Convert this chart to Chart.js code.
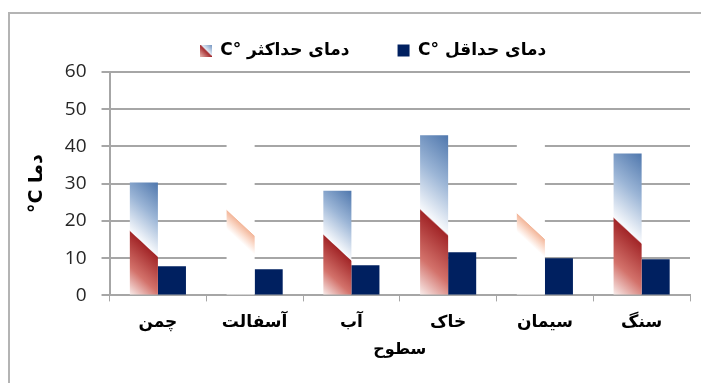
<!DOCTYPE html>
<html lang="fa">
<head>
<meta charset="utf-8">
<title>دمای سطوح</title>
<script src="https://cdn.jsdelivr.net/npm/chart.js@4.4.0/dist/chart.umd.min.js"></script>
<style>
  html, body { margin: 0; padding: 0; background: #fff; }
  #marco { position: absolute; left: 8px; top: 12px; width: 700px; height: 380px;
           border-left: 2px solid #b4b4b4; border-top: 2px solid #b4b4b4; }
  #contenedor { position: absolute; left: 0; top: 0; width: 701px; height: 383px; }
</style>
</head>
<body>
<div id="marco"></div>
<div id="contenedor"><canvas id="grafico" width="701" height="383"></canvas></div>
<script>
var superficies = ['چمن', 'آسفالت', 'آب', 'خاک', 'سیمان', 'سنگ'];
var tempMax = [30.3, 43, 28.1, 43, 41, 38.1];
var tempMin = [7.8, 7.0, 8.1, 11.6, 10.0, 9.7];
var ticksY = [0, 10, 20, 30, 40, 50, 60];

// bars of the max series that are printed almost white
var maxPalido = [false, true, false, false, true, false];

var catPct = 0.58;
var fuenteFa = "'DejaVu Sans', sans-serif";

// diagonal two-tone fill for the max bars (blue on top, red below)
function rellenoMax(ctx) {
  var chart = ctx.chart;
  if (ctx.type !== 'data' || !chart.chartArea) return '#6f92c0';
  var sx = chart.scales.x, sy = chart.scales.y;
  var ancho = sx.width / superficies.length * catPct / 2;
  var xc = sx.getPixelForValue(ctx.dataIndex) - ancho / 2;
  var arriba = sy.getPixelForValue(ctx.raw);
  var base = sy.getPixelForValue(0);
  var yBorde = base - (base - arriba) * 0.45;
  var nx = -0.68, ny = 0.733;
  var esquinas = [[xc - ancho / 2, arriba], [xc + ancho / 2, arriba], [xc - ancho / 2, base], [xc + ancho / 2, base]];
  var pMin = Infinity, pMax = -Infinity;
  esquinas.forEach(function (c) {
    var p = (c[0] - xc) * nx + (c[1] - yBorde) * ny;
    pMin = Math.min(pMin, p);
    pMax = Math.max(pMax, p);
  });
  var g = chart.ctx.createLinearGradient(xc + nx * pMin, yBorde + ny * pMin, xc + nx * pMax, yBorde + ny * pMax);
  var f = -pMin / (pMax - pMin);
  if (maxPalido[ctx.dataIndex]) {
    g.addColorStop(0, '#ffffff');
    g.addColorStop(f - 0.005, '#ffffff');
    g.addColorStop(f, '#f3b79b');
    g.addColorStop(f + 0.05, '#fbdccd');
    g.addColorStop(f + 0.1, '#ffffff');
    g.addColorStop(1, '#ffffff');
  } else {
    g.addColorStop(0, '#4f77ad');
    g.addColorStop(f * 0.5, '#9bb5d6');
    g.addColorStop(f - 0.01, '#f7f9fc');
    g.addColorStop(f, '#a22628');
    g.addColorStop(f + (1 - f) * 0.55, '#d3726b');
    g.addColorStop(1, '#faf0ee');
  }
  return g;
}

// small legend icon with the same diagonal fill
var icono = document.createElement('canvas');
icono.width = 12;
icono.height = 12;
var ic = icono.getContext('2d');
var gi = ic.createLinearGradient(12, 0, 0, 12);
gi.addColorStop(0, '#6f92c0');
gi.addColorStop(0.49, '#eef3f9');
gi.addColorStop(0.5, '#a3272a');
gi.addColorStop(1, '#e9b9b3');
ic.fillStyle = gi;
ic.fillRect(0, 0, 12, 12);

var moverLeyenda = {
  id: 'moverLeyenda',
  afterLayout: function (chart) {
    chart.legend.left += 18;
    chart.legend.right += 18;
    chart.legend.top -= 3;
    chart.legend.bottom -= 3;
  }
};

new Chart('grafico', {
  type: 'bar',
  data: {
    labels: superficies,
    datasets: [{
      label: 'C° دمای حداکثر',
      data: tempMax,
      backgroundColor: rellenoMax,
      borderWidth: 0
    }, {
      label: 'C° دمای حداقل',
      data: tempMin,
      backgroundColor: '#002060',
      borderWidth: 0
    }]
  },
  options: {
    responsive: false,
    animation: false,
    datasets: { bar: { categoryPercentage: catPct, barPercentage: 1 } },
    layout: { padding: { left: 20, right: 11, top: 31, bottom: 24 } },
    plugins: {
      tooltip: { enabled: false },
      legend: {
        position: 'top',
        labels: {
          usePointStyle: true,
          boxWidth: 12,
          boxHeight: 12,
          padding: 14,
          color: '#000',
          font: { family: fuenteFa, size: 17, weight: 'bold' },
          generateLabels: function (chart) {
            var items = Chart.defaults.plugins.legend.labels.generateLabels(chart);
            items[0].pointStyle = icono;
            items[0].text += '\u2003\u2003';
            items[1].pointStyle = 'rect';
            items[1].fillStyle = '#002060';
            items[1].strokeStyle = '#002060';
            return items;
          }
        }
      }
    },
    scales: {
      x: {
        grid: { display: true, drawOnChartArea: false, offset: true, tickLength: 6, color: '#a6a6a6', lineWidth: 1 },
        border: { color: '#a6a6a6', width: 2 },
        ticks: { color: '#000', padding: 11, font: { family: fuenteFa, size: 17, weight: 'bold' } },
        title: { display: true, text: 'سطوح', color: '#000', padding: { top: -4, bottom: 0 },
                 font: { family: fuenteFa, size: 16, weight: 'bold' } }
      },
      y: {
        min: ticksY[0],
        max: ticksY[ticksY.length - 1],
        grid: { color: '#a6a6a6', lineWidth: 2, tickLength: 8 },
        border: { color: '#a6a6a6', width: 2 },
        ticks: { stepSize: ticksY[1] - ticksY[0], color: '#262626', padding: 15,
                 font: { family: "'Open Sans', sans-serif", size: 19 } },
        title: { display: true, text: '°C دما', color: '#000', padding: { top: 6, bottom: 1 },
                 font: { family: fuenteFa, size: 19, weight: 'bold' } }
      }
    }
  },
  plugins: [moverLeyenda]
});
</script>
</body>
</html>
